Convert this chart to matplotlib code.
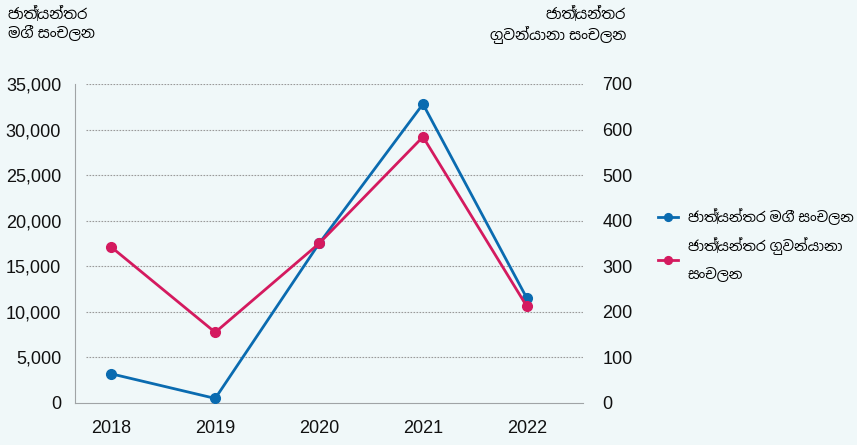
import numpy as np
import matplotlib
matplotlib.use("Agg")
import matplotlib.pyplot as plt

plt.rcParams['font.family'] = ['Liberation Sans', 'Noto Sans Sinhala', 'DejaVu Sans']

# data
years = ['2018', '2019', '2020', '2021', '2022']
passengers = [3200, 500, 17500, 32800, 11500]      # left axis
aircraft = [342, 155, 350, 584, 212]                # right axis
left_ticks = [0, 5000, 10000, 15000, 20000, 25000, 30000, 35000]
right_ticks = [0, 100, 200, 300, 400, 500, 600, 700]

left_title = 'ජාත්‍යන්තර\nමගී සංචලන'
right_title = 'ජාත්‍යන්තර\nගුවන්යානා සංචලන'
label_pass = 'ජාත්‍යන්තර මගී සංචලන'
label_air = 'ජාත්‍යන්තර ගුවන්යානා\nසංචලන'

bg = '#f0f8f9'
blue = '#0a6bb0'
red = '#d41a5f'
grey = '#a0a4a6'

fig = plt.figure(figsize=(8.57, 4.45), dpi=100, facecolor=bg)
ax = fig.add_axes([0.0875, 0.0944, 0.5927, 0.7169])
ax.set_facecolor(bg)
ax2 = ax.twinx()

x = np.arange(len(years))

# dotted grid, starting a little right of the spine
for t in left_ticks[1:]:
    ax.axhline(t, xmin=0.022, xmax=1, color='#9a9a9a', lw=0.8, ls=(0, (1.5, 1.2)), zorder=0)

l1, = ax.plot(x, passengers, color=blue, lw=2, marker='o', ms=7, zorder=3, label=label_pass)
l2, = ax2.plot(x, aircraft, color=red, lw=2, marker='o', ms=7, zorder=3, label=label_air)

ax.set_xlim(-0.35, 4.54)
ax.set_ylim(0, 35000)
ax2.set_ylim(0, 700)
ax.set_xticks(x)
ax.set_xticklabels(years)
ax.set_yticks(left_ticks)
ax.set_yticklabels([f'{v:,}' for v in left_ticks])
ax2.set_yticks(right_ticks)

ax.tick_params(axis='both', length=0, labelsize=13, colors='#111111')
ax.tick_params(axis='y', pad=10)
ax.tick_params(axis='x', pad=12)
ax2.tick_params(axis='y', length=0, labelsize=13, colors='#111111', pad=14)

for a in (ax, ax2):
    a.spines['top'].set_visible(False)
    a.spines['right'].set_visible(False)
    a.spines['left'].set_color(grey)
    a.spines['bottom'].set_color(grey)
ax2.spines['left'].set_visible(False)
ax2.spines['bottom'].set_visible(False)

fig.text(8 / 857, 1 - 6 / 445, left_title, ha='left', va='top', fontsize=10.5, linespacing=1.25)
fig.text(626 / 857, 1 - 6 / 445, right_title, ha='right', va='top', fontsize=10.5,
         linespacing=1.25, multialignment='right')

leg = fig.legend(handles=[l1, l2], loc='center left', bbox_to_anchor=(658 / 857, 1 - 245 / 445),
                 frameon=False, fontsize=10.2, handlelength=1.4, handletextpad=0.7,
                 labelspacing=0.9, markerscale=0.8, borderaxespad=0, borderpad=0)
for t in leg.get_texts():
    t.set_linespacing(2.0)

fig.savefig('out.png', dpi=100, facecolor=bg)
